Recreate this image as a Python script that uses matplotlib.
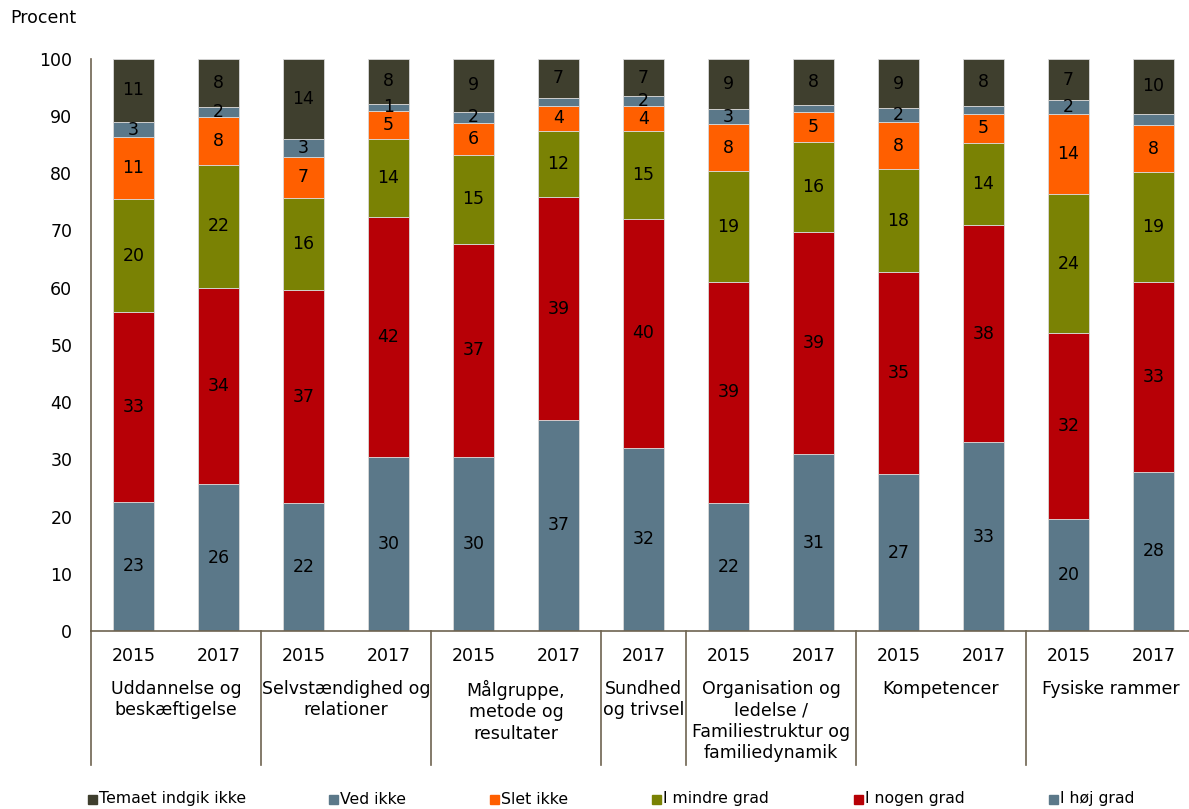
import matplotlib
matplotlib.use("Agg")
import matplotlib.pyplot as plt
from matplotlib.patches import Rectangle

# survey answers per theme and year (percent)
groups = ["Uddannelse og\nbeskæftigelse", "Selvstændighed og\nrelationer",
          "Målgruppe,\nmetode og\nresultater", "Sundhed\nog trivsel",
          "Organisation og\nledelse /\nFamiliestruktur og\nfamiliedynamik",
          "Kompetencer", "Fysiske rammer"]
group_sizes = [2, 2, 2, 1, 2, 2, 2]
years = ["2015", "2017", "2015", "2017", "2015", "2017", "2017",
         "2015", "2017", "2015", "2017", "2015", "2017"]

hoj_grad = [22.6, 25.6, 22.3, 30.4, 30.4, 36.9, 32.0, 22.4, 30.9, 27.4, 33.0, 19.6, 27.8]
nogen_grad = [33.1, 34.3, 37.3, 41.9, 37.3, 38.9, 40.0, 38.6, 38.9, 35.3, 37.9, 32.4, 33.1]
mindre_grad = [19.7, 21.6, 16.1, 13.7, 15.4, 11.6, 15.4, 19.3, 15.6, 18.0, 14.4, 24.4, 19.3]
slet_ikke = [10.9, 8.4, 7.2, 4.9, 5.7, 4.4, 4.3, 8.3, 5.3, 8.2, 5.1, 13.9, 8.2]
ved_ikke = [2.6, 1.7, 3.1, 1.2, 1.9, 1.3, 1.7, 2.6, 1.2, 2.4, 1.3, 2.4, 2.0]
temaet_ikke = [11.1, 8.4, 14.0, 7.9, 9.3, 6.9, 6.6, 8.8, 8.1, 8.7, 8.3, 7.3, 9.6]
ved_ikke_labelled = [1, 1, 1, 1, 1, 0, 1, 1, 0, 1, 0, 1, 0]

series = [
    ("I høj grad", hoj_grad, "#5B7889"),
    ("I nogen grad", nogen_grad, "#B70006"),
    ("I mindre grad", mindre_grad, "#7A8204"),
    ("Slet ikke", slet_ikke, "#FF5F00"),
    ("Ved ikke", ved_ikke, "#5B7889"),
    ("Temaet indgik ikke", temaet_ikke, "#3F3F2E"),
]

W, H = 1189, 809
FS = 12.5
axis_col = "#6E6350"
plt.rcParams["font.family"] = "DejaVu Sans"

fig = plt.figure(figsize=(W / 100, H / 100), dpi=100)
ax_left, ax_right, ax_top, ax_bottom = 91, 1196, 58.7, 631
ax = fig.add_axes([ax_left / W, 1 - ax_bottom / H,
                   (ax_right - ax_left) / W, (ax_bottom - ax_top) / H])


def ay(py):
    # pixel row -> axes fraction
    return (ax_bottom - py) / (ax_bottom - ax_top)


x = list(range(len(years)))
bottom = [0.0] * len(x)
for name, vals, col in series:
    ax.bar(x, vals, width=0.494, bottom=bottom, color=col,
           edgecolor="#D9D9D9", linewidth=0.6, label=name, zorder=2)
    for i, v in enumerate(vals):
        if name == "Ved ikke" and not ved_ikke_labelled[i]:
            continue
        ax.text(i, bottom[i] + v / 2, f"{v:.0f}", ha="center", va="center",
                fontsize=FS, color="black", zorder=3)
    bottom = [b + v for b, v in zip(bottom, vals)]

ax.set_xlim(-0.5, len(x) - 0.5)
ax.set_ylim(0, 100)
ax.set_yticks(range(0, 101, 10))
ax.tick_params(axis="y", length=0, pad=13.5, labelsize=FS)
ax.set_xticks([])
for s in ["top", "right"]:
    ax.spines[s].set_visible(False)
for s in ["left", "bottom"]:
    ax.spines[s].set_color(axis_col)
    ax.spines[s].set_linewidth(1.2)

# year and theme labels under the bars
tr = ax.get_xaxis_transform()
for i, yr in enumerate(years):
    ax.text(i, ay(656), yr, transform=tr, ha="center", va="center", fontsize=FS)

start = 0
for g, n in zip(groups, group_sizes):
    centre = start + (n - 1) / 2
    ax.text(centre, ay(680), g, transform=tr, ha="center", va="top",
            fontsize=FS, linespacing=1.24)
    start += n

edges = [-0.5]
for n in group_sizes:
    edges.append(edges[-1] + n)
for e in edges[:-1]:
    ax.plot([e, e], [0, ay(765)], transform=tr, color=axis_col,
            linewidth=1.2, clip_on=False)

fig.text(10 / W, 1 - 18 / H, "Procent", fontsize=FS, va="center", ha="left")

# legend row
legend_items = [
    ("Temaet indgik ikke", "#3F3F2E", 88),
    ("Ved ikke", "#5B7889", 329),
    ("Slet ikke", "#FF5F00", 490),
    ("I mindre grad", "#7A8204", 652),
    ("I nogen grad", "#B70006", 854),
    ("I høj grad", "#5B7889", 1049),
]
ly = 799
for name, col, px in legend_items:
    fig.patches.append(Rectangle((px / W, 1 - (ly + 4.5) / H), 9 / W, 9 / H,
                                 transform=fig.transFigure, color=col))
    fig.text((px + 11) / W, 1 - (ly + 4.5) / H, name, fontsize=11.3,
             va="baseline", ha="left")

fig.savefig("out.png", dpi=100)
